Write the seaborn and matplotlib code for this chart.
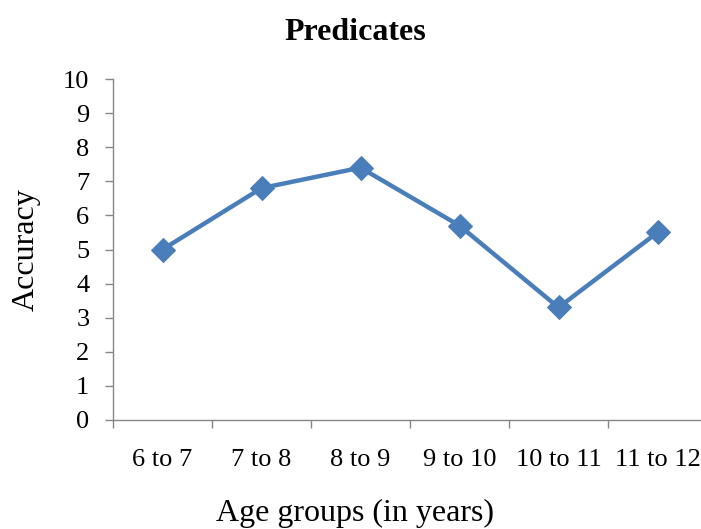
import matplotlib
matplotlib.use("Agg")
import matplotlib.pyplot as plt
import seaborn as sns
import pandas as pd
import numpy as np

# Accuracy on predicates by age group
age_groups = ["6 to 7", "7 to 8", "8 to 9", "9 to 10", "10 to 11", "11 to 12"]
accuracy = [5.0, 6.8, 7.4, 5.7, 3.3, 5.5]
y_ticks = [0, 1, 2, 3, 4, 5, 6, 7, 8, 9, 10]

df = pd.DataFrame({"Age group": age_groups, "Accuracy": accuracy})

sns.set_style("white")
plt.rcParams["font.family"] = ["Liberation Serif", "DejaVu Serif"]
plt.rcParams["text.color"] = "black"
plt.rcParams["xtick.labelcolor"] = "black"
plt.rcParams["ytick.labelcolor"] = "black"

W, H = 701, 529
fig = plt.figure(figsize=(W / 100, H / 100), dpi=100)
ax = fig.add_axes([113 / W, (H - 420) / H, 594 / W, 341 / H])

line_color = "#4A7EBB"
sns.lineplot(data=df, x="Age group", y="Accuracy", sort=False, ax=ax,
             color=line_color, linewidth=3.2, marker="D", markersize=12,
             markeredgecolor=line_color, markerfacecolor=line_color)

ax.set_xlim(-0.5, len(age_groups) - 0.5)
ax.set_ylim(0, 10)
ax.set_yticks(y_ticks)

# category labels at centres, tick marks on the boundaries
ax.set_xticks(range(len(age_groups)))
ax.set_xticklabels(age_groups)
ax.set_xticks(np.arange(-0.5, len(age_groups)), minor=True)

axis_color = "#868686"
for side in ["top", "right"]:
    ax.spines[side].set_visible(False)
for side in ["left", "bottom"]:
    ax.spines[side].set_color(axis_color)
    ax.spines[side].set_linewidth(1.0)

ax.tick_params(axis="y", which="major", direction="out", length=6, width=1,
               color=axis_color, labelcolor="black", labelsize=19, pad=11,
               left=True)
ax.tick_params(axis="x", which="major", length=0, labelcolor="black",
               labelsize=19, pad=21)
ax.tick_params(axis="x", which="minor", direction="out", length=6, width=1,
               color=axis_color, bottom=True)

ax.set_xlabel("")
ax.set_ylabel("")
fig.text(355 / W, (H - 521) / H, "Age groups (in years)", ha="center",
         va="baseline", fontsize=23, color="black")
fig.text(26 / W, 1 - 250 / H, "Accuracy", ha="center", va="center",
         rotation=90, fontsize=23, color="black")
fig.text(355 / W, (H - 40) / H, "Predicates", ha="center", va="baseline",
         fontsize=23, fontweight="bold", color="black")

fig.savefig("out.png", dpi=100)
